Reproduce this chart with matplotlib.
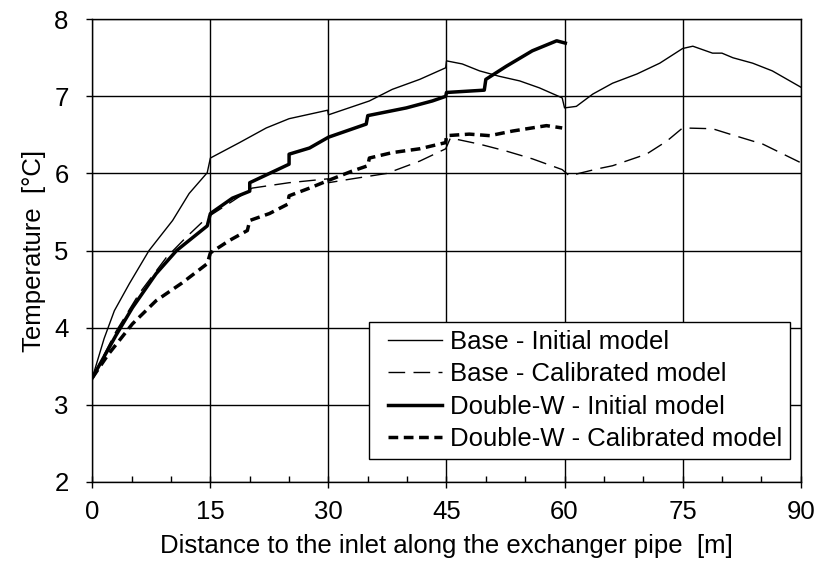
import matplotlib
matplotlib.use("Agg")
import matplotlib.pyplot as plt
from matplotlib.legend_handler import HandlerLine2D
from matplotlib.ticker import MultipleLocator

plt.rcParams['font.family'] = ['Liberation Sans', 'DejaVu Sans']

# Base - Initial model
base_init_x = [0, 1.5, 2.8, 4.7, 7.2, 10.2, 12.3, 14.6, 15, 18.7, 22.1, 25, 29.9, 30,
               35.2, 38.1, 41.6, 44.9, 45, 47, 49.2, 51.7, 54.3, 56.8, 59.7, 60,
               61.5, 63.6, 66.1, 69.2, 72.1, 75, 76.3, 78.8, 80, 81.4, 83.9, 86.4, 90]
base_init_y = [3.35, 3.86, 4.22, 4.57, 5.0, 5.39, 5.74, 6.01, 6.2, 6.40, 6.59, 6.71, 6.82, 6.76,
               6.94, 7.09, 7.22, 7.37, 7.46, 7.42, 7.33, 7.26, 7.2, 7.11, 6.98, 6.85,
               6.87, 7.03, 7.17, 7.29, 7.43, 7.62, 7.65, 7.56, 7.56, 7.5, 7.43, 7.33, 7.12]

# Base - Calibrated model
base_cal_x = [0, 3, 6, 9.4, 11.9, 14.6, 17.8, 20.3, 25, 29.9, 30, 33, 37.4, 41.6, 44.9, 45.5,
              49.2, 52.6, 55.9, 59.7, 60.6, 64.2, 66.1, 70.4, 73, 75, 78.8, 81, 85.2, 90]
base_cal_y = [3.35, 3.95, 4.45, 4.91, 5.17, 5.43, 5.64, 5.81, 5.88, 5.93, 5.88, 5.93, 6.0, 6.16, 6.32, 6.46,
              6.38, 6.29, 6.19, 6.05, 5.97, 6.06, 6.1, 6.25, 6.42, 6.59, 6.58, 6.51, 6.38, 6.14]

# Double-W - Initial model
dw_init_x = [0, 3, 5.1, 8.1, 10.7, 14.6, 15, 17.8, 20, 20, 22.5, 25, 25, 27.6, 30,
             34.8, 35, 39.9, 43.2, 44.9, 45, 49.8, 50, 52.6, 55.9, 59, 60.1]
dw_init_y = [3.35, 3.9, 4.26, 4.7, 5.0, 5.32, 5.48, 5.68, 5.77, 5.88, 6.0, 6.12, 6.25, 6.33, 6.47,
             6.64, 6.75, 6.85, 6.94, 7.0, 7.05, 7.08, 7.22, 7.39, 7.59, 7.72, 7.69]

# Double-W - Calibrated model
dw_cal_x = [0, 2, 5.1, 8.1, 11.4, 14.6, 15, 17.4, 19.7, 20, 22.5, 24.8, 25, 27.6, 30, 33,
            35, 35.2, 38.1, 41.6, 44.9, 45, 47.9, 50.5, 53.4, 57.7, 59.7]
dw_cal_y = [3.35, 3.65, 4.05, 4.35, 4.58, 4.83, 4.97, 5.13, 5.26, 5.39, 5.48, 5.6, 5.71, 5.81, 5.91, 6.03,
            6.1, 6.2, 6.27, 6.32, 6.4, 6.49, 6.51, 6.49, 6.55, 6.62, 6.59]

xticks = [0, 15, 30, 45, 60, 75, 90]
yticks = [2, 3, 4, 5, 6, 7, 8]

fs = 18.5

fig = plt.figure(figsize=(8.17, 5.65), dpi=100)
ax = fig.add_axes([0.113, 0.147, 0.867, 0.819])

ax.plot(base_init_x, base_init_y, color='black', lw=1.0, label='Base - Initial model')
ax.plot(base_cal_x, base_cal_y, color='black', lw=1.0, dashes=(12, 6), label='Base - Calibrated model')
ax.plot(dw_init_x, dw_init_y, color='black', lw=2.5, label='Double-W - Initial model')
ax.plot(dw_cal_x, dw_cal_y, color='black', lw=2.5, dashes=(2.8, 1.6), label='Double-W - Calibrated model')

ax.set_xlim(0, 90)
ax.set_ylim(2, 8)
ax.set_xticks(xticks)
ax.set_yticks(yticks)
ax.xaxis.set_minor_locator(MultipleLocator(5))
ax.grid(True, which='major', color='black', lw=1.0)
ax.set_axisbelow(True)
for s in ax.spines.values():
    s.set_linewidth(1.0)
ax.tick_params(labelsize=fs, length=4, width=1, direction='out')
ax.tick_params(axis='x', which='major', direction='inout', length=8, pad=9)
ax.tick_params(axis='x', which='minor', direction='in', length=4, width=1)
ax.tick_params(axis='y', pad=13)

ax.set_xlabel('Distance to the inlet along the exchanger pipe  [m]', fontsize=fs, labelpad=7)
ax.set_ylabel('Temperature  [°C]', fontsize=fs, labelpad=6)

leg = ax.legend(loc='lower right', bbox_to_anchor=(0.985, 0.05), borderaxespad=0,
                fontsize=fs, fancybox=False, framealpha=1, edgecolor='black',
                handlelength=2.55, handletextpad=0.3, borderpad=0.3, labelspacing=0.33,
                handler_map={plt.Line2D: HandlerLine2D(xpad=0.45)})
leg.get_frame().set_linewidth(1.0)

fig.savefig('out.png', dpi=100)
